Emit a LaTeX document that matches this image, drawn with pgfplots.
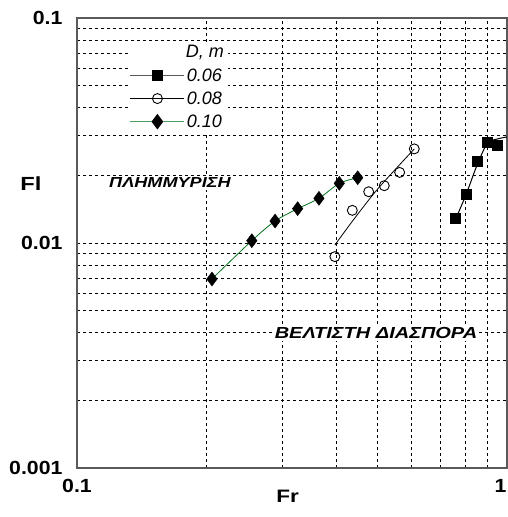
\documentclass[border=0pt]{standalone}
\usepackage{pgfplots}
\pgfplotsset{compat=1.18}
\usepackage{fontspec}
\setmainfont{Liberation Sans}
\newfontfamily\widefont[FakeStretch=1.25]{Liberation Sans}
\newfontfamily\tickfont[FakeStretch=1.12]{Liberation Sans}
\definecolor{fitgreen}{RGB}{0,115,25}
\definecolor{framegray}{RGB}{90,90,90}

\begin{document}
\begin{tikzpicture}
\begin{axis}[
    name=ax, at={(0,0)}, anchor=south west,
    scale only axis, width=430pt, height=450pt,
    xmode=log, ymode=log,
    xmin=0.1, xmax=1, ymin=0.001, ymax=0.1,
    xtick={0.1,1}, xticklabels={0.1,\llap{1}\hspace*{1pt}},
    ytick={0.001,0.01,0.1}, yticklabels={0.001,0.01,0.1},
    grid=both,
    major grid style={black, dashed, line width=0.5pt},
    minor grid style={black, dashed, line width=0.5pt},
    major tick length=0pt, minor tick length=0pt,
    axis line style={framegray, line width=1.3pt},
    /pgf/number format/assume math mode=true,
    ticklabel style={font=\tickfont\fontsize{19}{21}\selectfont\bfseries},
    xticklabel style={yshift=-8pt},
    yticklabel style={xshift=-11pt},
    legend cell align=left,
    legend style={at={(0.118,0.948)}, anchor=north west, draw=none, fill=white,
        font=\fontsize{18}{20}\selectfont\itshape, row sep=5pt,
        inner xsep=2pt, inner ysep=2pt},
    legend image code/.code={\draw[mark repeat=2,mark phase=2]
        plot coordinates {(0pt,0pt) (27pt,0pt) (54pt,0pt)};},
    clip=false,
]
% legend
\addlegendimage{empty legend}
\addlegendentry{\hspace{-1pt}D, m\rule[-6pt]{0pt}{6pt}}
\addlegendimage{framegray, line width=1pt, mark=square*, mark size=5pt, mark options={black, solid}}
\addlegendentry{0.06}
\addlegendimage{black, line width=0.8pt, mark=o, mark size=5pt, mark options={fill=white, line width=0.9pt}}
\addlegendentry{0.08}
\addlegendimage{fitgreen!70, line width=1pt, mark=diamond*, mark size=7pt, mark options={black, fill=black}}
\addlegendentry{0.10}

% D = 0.10 (diamonds)
\addplot[fitgreen, line width=0.8pt, smooth, forget plot] coordinates {
  (0.206,0.00692) (0.255,0.01024) (0.2888,0.01252) (0.326,0.01421)
  (0.3654,0.0158) (0.4074,0.01842) (0.4496,0.0195)
};
\addplot[only marks, mark=diamond*, mark size=7pt, black, forget plot] coordinates {
  (0.206,0.00692) (0.255,0.01024) (0.2888,0.01252) (0.326,0.01421)
  (0.3654,0.0158) (0.4074,0.01842) (0.4496,0.0195)
};

% D = 0.08 (circles)
\addplot[black, line width=0.8pt, smooth, forget plot] coordinates {
  (0.398,0.0098) (0.4392,0.01266) (0.5019,0.0175) (0.6087,0.0262)
};
\addplot[only marks, mark=o, mark size=5pt, black, mark options={fill=white, line width=0.9pt}, forget plot] coordinates {
  (0.398,0.0087) (0.4368,0.01397) (0.4768,0.0169) (0.5183,0.01798)
  (0.5628,0.0206) (0.6087,0.0262)
};

% D = 0.06 (squares)
\addplot[black, line width=1pt, smooth, forget plot] coordinates {
  (0.76,0.0128) (0.804,0.0165) (0.852,0.0222) (0.90,0.0277) (0.95,0.0290) (1.0,0.0296)
};
\addplot[only marks, mark=square*, mark size=5pt, black, forget plot] coordinates {
  (0.7596,0.01287) (0.804,0.0165) (0.8517,0.02314) (0.90,0.0281) (0.948,0.0272)
};

% region labels
\node[fill=white, inner sep=2pt, font=\widefont\fontsize{14.5}{16}\selectfont\bfseries\itshape]
  at (axis cs:0.1645,0.0185) {ΠΛΗΜΜΥΡΙΣΗ};
\node[fill=white, inner sep=2pt, font=\widefont\fontsize{16}{18}\selectfont\bfseries\itshape]
  at (axis cs:0.4959,0.00398) {ΒΕΛΤΙΣΤΗ ΔΙΑΣΠΟΡΑ};

% axis titles
\node[font=\widefont\fontsize{19}{21}\selectfont\bfseries] at (rel axis cs:-0.107,0.633) {Fl};
\node[font=\widefont\fontsize{18}{20}\selectfont\bfseries] at (rel axis cs:0.49,-0.064) {Fr};
\end{axis}
\pgfresetboundingbox
\useasboundingbox ([xshift=-77pt,yshift=-49pt]ax.south west) rectangle ([xshift=1pt,yshift=18pt]ax.north east);
\end{tikzpicture}
\end{document}
